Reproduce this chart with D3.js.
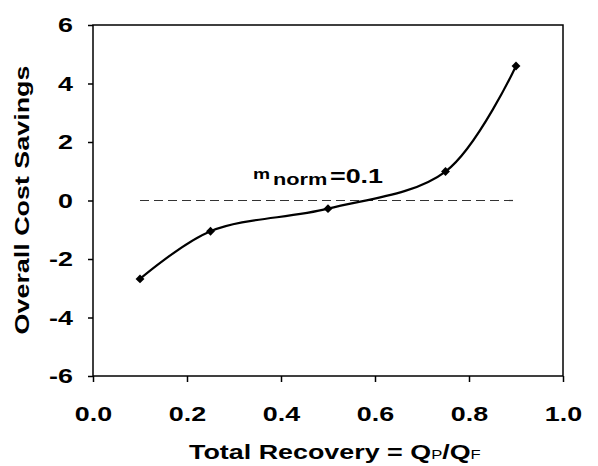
<!DOCTYPE html>
<html>
<head>
<meta charset="utf-8">
<script src="https://cdn.jsdelivr.net/npm/d3@7"></script>
<style>
  body { margin: 0; background: #fff; }
  text { font-family: "Liberation Sans", Arial, sans-serif; font-weight: bold; fill: #000; }
</style>
</head>
<body>
<div class="main"></div>
<script>
//// data
const recovery = [0.1, 0.25, 0.5, 0.75, 0.9];
const savings = [-2.68, -1.05, -0.28, 0.99, 4.6];
const xTicks = [0, 0.2, 0.4, 0.6, 0.8, 1.0];
const yTicks = [-6, -4, -2, 0, 2, 4, 6];
const refLine = [0.1, 0.9];   // dashed line at zero, from x to x
const refValue = 0;

const width = 598;
const height = 466;
const margin = { left: 93, right: 35, top: 25, bottom: 90 };
const sx = 1.28; // the source text is drawn wide

const svg = d3.select('.main').append('svg')
  .attr('width', width)
  .attr('height', height);

const xScale = d3.scaleLinear()
  .domain([0, 1])
  .range([margin.left, width - margin.right]);

const yScale = d3.scaleLinear()
  .domain([-6, 6])
  .range([height - margin.bottom, margin.top]);

// frame
svg.append('rect')
  .attr('x', xScale(0))
  .attr('y', yScale(6))
  .attr('width', xScale(1) - xScale(0))
  .attr('height', yScale(-6) - yScale(6))
  .attr('fill', 'none')
  .attr('stroke', '#000')
  .attr('stroke-width', 1.5);

const xAxis = d3.axisBottom(xScale)
  .tickValues(xTicks)
  .tickFormat(d3.format('.1f'))
  .tickSizeInner(6)
  .tickSizeOuter(0)
  .tickPadding(24);

const yAxis = d3.axisLeft(yScale)
  .tickValues(yTicks)
  .tickFormat(d => String(d))
  .tickSizeInner(5)
  .tickSizeOuter(0)
  .tickPadding(15);

const gx = svg.append('g')
  .attr('transform', `translate(0, ${yScale(-6)})`)
  .call(xAxis);

const gy = svg.append('g')
  .attr('transform', `translate(${xScale(0)}, 0)`)
  .call(yAxis);

[gx, gy].forEach(g => {
  g.select('.domain').remove();
  g.selectAll('line').attr('stroke', '#000').attr('stroke-width', 1.5);
  g.selectAll('text')
    .attr('font-size', 21)
    .attr('font-family', '"Liberation Sans", Arial, sans-serif')
    .attr('font-weight', 'bold')
    .attr('fill', '#000')
    .attr('transform', `scale(${sx},1)`);
});
gy.selectAll('text').attr('x', -20 / sx);

// dashed reference line
svg.append('line')
  .attr('x1', xScale(refLine[0]))
  .attr('x2', xScale(refLine[1]))
  .attr('y1', yScale(refValue))
  .attr('y2', yScale(refValue))
  .attr('stroke', '#333')
  .attr('stroke-width', 1.2)
  .attr('stroke-dasharray', '9,5');

// smoothed curve
const pts = recovery.map((r, i) => [r, savings[i]]);
const line = d3.line()
  .x(d => xScale(d[0]))
  .y(d => yScale(d[1]))
  .curve(d3.curveCatmullRom.alpha(0.5));

svg.append('path')
  .datum(pts)
  .attr('d', line)
  .attr('fill', 'none')
  .attr('stroke', '#000')
  .attr('stroke-width', 2.2);

svg.selectAll('.marker')
  .data(pts)
  .enter()
  .append('path')
  .attr('class', 'marker')
  .attr('d', d3.symbol(d3.symbolDiamond2, 50))
  .attr('transform', d => `translate(${xScale(d[0])}, ${yScale(d[1])})`)
  .attr('fill', '#000');

// label m_norm = 0.1
const lab = svg.append('text')
  .attr('transform', `translate(253, 0) scale(${sx},1)`);
lab.append('tspan').attr('x', 0).attr('y', 179).attr('font-size', 15).text('m');
lab.append('tspan').attr('x', 20 / sx).attr('y', 185).attr('font-size', 17).text('norm');
lab.append('tspan').attr('x', 77 / sx).attr('y', 183).attr('font-size', 21).text('=0.1');

// axis titles
const xt = svg.append('text')
  .attr('transform', `translate(189, 459) scale(${sx},1)`)
  .attr('font-size', 21);
xt.append('tspan').text('Total Recovery = Q');
xt.append('tspan').attr('font-size', 13).attr('font-weight', 'normal').text('P');
xt.append('tspan').text('/Q');
xt.append('tspan').attr('font-size', 13).attr('font-weight', 'normal').text('F');

svg.append('text')
  .attr('transform', `translate(29, 200) rotate(-90) scale(${sx},1)`)
  .attr('text-anchor', 'middle')
  .attr('font-size', 21)
  .text('Overall Cost Savings');
</script>
</body>
</html>
